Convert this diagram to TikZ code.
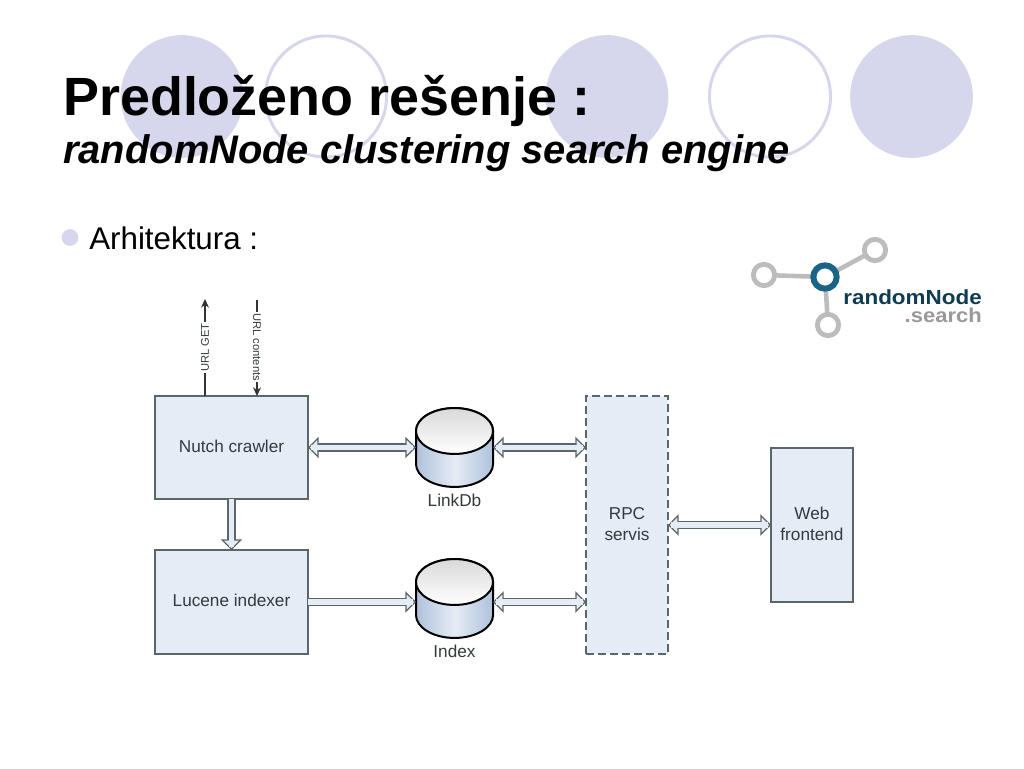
\documentclass[tikz,border=0pt]{standalone}
\usepackage{fontspec}
\setmainfont{Liberation Sans}
\newfontfamily\logofont[FakeStretch=1.1]{Liberation Sans}
\usetikzlibrary{arrows.meta,positioning}
\definecolor{lilac}{HTML}{D6D6EC}
\definecolor{boxfill}{HTML}{E4ECF6}
\definecolor{boxline}{HTML}{5C6668}
\definecolor{labeltext}{HTML}{333B3D}
\definecolor{logogray}{HTML}{BCBCBC}
\definecolor{logoblue}{HTML}{1A6488}
\definecolor{dbedge}{HTML}{AEC2DB}
\definecolor{dbmid}{HTML}{E6ECF5}
\newcommand{\lblsize}{\fontsize{12.9}{15.75}\selectfont}
\newcommand{\dbstore}[3]{%
  \path[draw=black,line width=1.5pt,left color=dbedge,right color=dbedge,middle color=dbmid]
    (#2,#3) ++(-38.5,-16.5) -- ++(0,33)
    arc[start angle=180,end angle=360,x radius=28.9pt,y radius=17.2pt] -- ++(0,-33)
    arc[start angle=0,end angle=180,x radius=28.9pt,y radius=17.2pt] -- cycle;
  \path[draw=black,line width=1.5pt,top color=gray!30,bottom color=white]
    (#2,#3) ++(0,-16.5) ellipse [x radius=28.9pt,y radius=17.2pt];
  \node[store] (#1) at (#2,#3) {};
}
\begin{document}
\begin{tikzpicture}[x=0.75pt,y=-0.75pt,
    box/.style={draw=boxline,fill=boxfill,line width=0.9pt,text=labeltext,font=\lblsize,align=center,text depth=2.2pt,inner sep=0pt,outer sep=0pt},
    store/.style={minimum width=57.75pt,minimum height=59.25pt,inner sep=0pt,outer sep=0pt},
    storelabel/.style={text=labeltext,font=\lblsize,inner sep=0pt},
    wire/.style={draw=black!80,line width=0.9pt,-{Stealth[length=6.5pt,width=6pt]}},
    wirelabel/.style={text=labeltext,font=\fontsize{8.4}{10}\selectfont,fill=white,inner sep=0.8pt},
    pipeboth/.style={draw=boxline,line width=0.9pt,double=boxfill,double distance=4.4pt,
      {Triangle[fill=boxfill,length=8pt,width=16pt]}-{Triangle[fill=boxfill,length=8pt,width=16pt]},
      postaction={draw=boxfill,line width=4.4pt,arrows=-,shorten >=2pt,shorten <=2pt}},
    pipeto/.style={draw=boxline,line width=0.9pt,double=boxfill,double distance=4.4pt,
      -{Triangle[fill=boxfill,length=8pt,width=16pt]},
      postaction={draw=boxfill,line width=4.4pt,arrows=-,shorten >=2pt}},
    logoring/.style={circle,draw=logogray,fill=white,line width=3.6pt,minimum size=16pt,inner sep=0pt},
    logolink/.style={draw=logogray,line width=3.4pt}]
  \useasboundingbox (0,0) rectangle (1024,768);
  \fill[white] (0,0) rectangle (1024,768);
  \foreach \cx in {182,607,911.5}
    \fill[lilac] (\cx,96.5) circle [radius=46pt];
  \foreach \cx in {326,770}
    \draw[lilac,line width=2.2pt] (\cx,96.5) circle [radius=45.4pt];

  \node[anchor=base west,inner sep=0pt,font=\fontsize{40.4}{48}\selectfont\bfseries] (title) at (63,115) {Predloženo rešenje :};
  \node[anchor=base west,inner sep=0pt,font=\fontsize{29.9}{36}\selectfont\bfseries\itshape] (subtitle) at (63,163) {randomNode clustering search engine};
  \node[circle,fill=lilac,minimum size=12.5pt,inner sep=0pt] (bullet) at (70,237.5) {};
  \node[anchor=base west,inner sep=0pt,font=\fontsize{23.5}{28}\selectfont] (arh) at (89,249) {Arhitektura :};

  \draw[logolink] (764,275) coordinate (lpos) -- (825,277) coordinate (cpos);
  \draw[logolink] (875,250) coordinate (tpos) -- (cpos);
  \draw[logolink] (828,325) coordinate (bpos) -- (cpos);
  \node[logoring] (lring) at (lpos) {};
  \node[logoring] (tring) at (tpos) {};
  \node[logoring] (bring) at (bpos) {};
  \node[circle,draw=logoblue,fill=white,line width=4.5pt,minimum size=17.5pt,inner sep=0pt] (cring) at (cpos) {};
  \node[anchor=base east,inner sep=0pt,text=logoblue!60!black,font=\logofont\fontsize{15.3}{16}\selectfont\bfseries] (rn) at (982,304) {randomNode};
  \node[anchor=base east,inner sep=0pt,text=gray!80,font=\logofont\fontsize{15}{16}\selectfont\bfseries] (srch) at (982,322.5) {.search};

  \node[box,minimum width=114.75pt,minimum height=77.25pt] (nutch) at (231.5,447.5) {Nutch crawler};
  \node[box,minimum width=114.75pt,minimum height=78pt,below=38.25pt of nutch] (lucene) {Lucene indexer};
  \node[box,line width=1.1pt,dash pattern=on 6pt off 3pt,minimum width=61.5pt,minimum height=193.5pt] (rpc) at (627,525) {RPC\\servis};
  \node[box,minimum width=61.5pt,minimum height=115.5pt,right=77.25pt of rpc] (web) {Web\\frontend};
  \dbstore{linkdb}{454.5}{447.5}
  \dbstore{index}{454.5}{598.5}
  \node[storelabel,below=5pt of linkdb] (linkdblbl) {LinkDb};
  \node[storelabel,below=5pt of index] (indexlbl) {Index};

  \coordinate (getend) at (205,299);
  \coordinate (getstart) at (205,396);
  \coordinate (urlstart) at (257,300);
  \coordinate (urlend) at (257,396);
  \draw[wire] (getstart) -- node[wirelabel,rotate=90,pos=0.5] {URL GET} (getend);
  \draw[wire] (urlstart) -- node[wirelabel,rotate=-90,pos=0.49] {URL contents} (urlend);

  \draw[pipeboth] (nutch.east) -- (linkdb.west);
  \draw[pipeboth] (linkdb.east) -- (linkdb.east -| rpc.west);
  \draw[pipeto] (lucene.east) -- (lucene.east -| index.west);
  \draw[pipeboth] (index.east |- lucene.east) -- (lucene.east -| rpc.west);
  \draw[pipeboth] (web.west -| rpc.east) -- (web.west);
  \draw[pipeto] (nutch.south) -- (lucene.north);
\end{tikzpicture}
\end{document}
